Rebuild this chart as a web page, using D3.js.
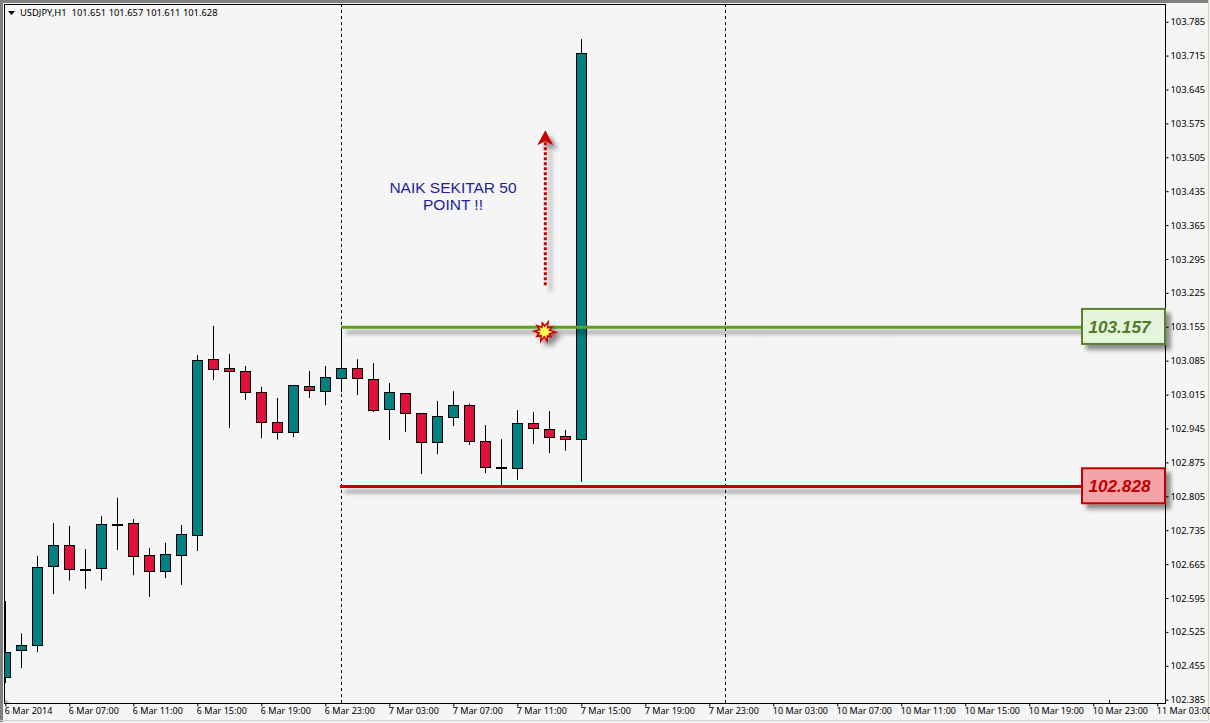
<!DOCTYPE html>
<html><head><meta charset="utf-8">
<script src="https://cdn.jsdelivr.net/npm/d3@7"></script>
<style>
html,body{margin:0;padding:0;background:#fff;overflow:hidden}
svg{display:block}
</style></head><body>
<svg id="c" width="1210" height="723"></svg>
<script>
const symbolTitle = "USDJPY,H1  101.651 101.657 101.611 101.628";
const candleOpen  = [102.432,102.486,102.497,102.660,102.704,102.655,102.656,102.748,102.749,102.683,102.650,102.684,102.724,103.088,103.069,103.063,103.020,102.958,102.937,103.032,103.023,103.048,103.069,103.047,102.984,103.018,102.976,102.916,102.969,102.993,102.919,102.866,102.864,102.956,102.945,102.929,102.922];
const candleHigh  = [102.589,102.522,102.682,102.750,102.744,102.696,102.764,102.802,102.758,102.698,102.709,102.746,103.097,103.157,103.099,103.074,103.031,103.008,103.034,103.064,103.074,103.154,103.088,103.080,103.039,103.018,102.976,103.002,103.022,102.996,102.952,102.923,102.983,102.979,102.981,102.942,103.749];
const candleLow   = [102.419,102.450,102.483,102.603,102.631,102.614,102.631,102.694,102.642,102.597,102.636,102.622,102.692,103.045,102.946,103.004,102.925,102.922,102.927,103.008,102.993,103.020,103.014,102.979,102.921,102.938,102.851,102.892,102.950,102.911,102.853,102.828,102.839,102.913,102.894,102.899,102.835];
const candleClose = [102.483,102.497,102.658,102.704,102.654,102.655,102.747,102.748,102.680,102.650,102.685,102.727,103.086,103.068,103.062,103.019,102.959,102.937,103.034,103.023,103.051,103.069,103.048,102.984,103.020,102.976,102.916,102.970,102.993,102.918,102.866,102.866,102.956,102.945,102.928,102.922,103.720];
const priceTicks = d3.range(0,21).map(i => (102.385 + i*0.07));
const timeLabels = ["6 Mar 2014","6 Mar 07:00","6 Mar 11:00","6 Mar 15:00","6 Mar 19:00","6 Mar 23:00","7 Mar 03:00","7 Mar 07:00","7 Mar 11:00","7 Mar 15:00","7 Mar 19:00","7 Mar 23:00","10 Mar 03:00","10 Mar 07:00","10 Mar 11:00","10 Mar 15:00","10 Mar 19:00","10 Mar 23:00","11 Mar 03:00"];
const separatorBars = [21, 45];
const levelPrices = [103.154, 102.825];
const levelLabels = ["103.157","102.828"];
const noteLines = ["NAIK SEKITAR 50","POINT !!"];
const arrowBottom = 103.241, arrowTop = 103.561, arrowBar = 33.75;
const burstPrice = 103.145, burstBar = 33.7;
const ghostBars   = [38,39,40,47,48,50,51,55,58,61,63,64];
const ghostTop    = [103.444,103.382,103.382,103.169,103.107,103.100,103.100,103.266,103.355,103.307,103.287,103.287];
const ghostBottom = [103.313,103.309,103.309,103.107,103.039,103.051,103.039,103.086,103.289,103.175,103.214,103.185];

const svg = d3.select("#c");
const W=1210,H=723;
const x = d3.scaleLinear().domain([0,72]).range([5.3,1157.3]);
const y = d3.scaleLinear().domain([102.385,103.785]).range([699.7,21.7]);
const FONT = "'Noto Sans',sans-serif";
const AX = 9.4, AXT = 9.05;

const defs = svg.append("defs");
const lshadow = defs.append("filter").attr("id","shL").attr("filterUnits","userSpaceOnUse").attr("x",0).attr("y",0).attr("width",W).attr("height",H);
lshadow.append("feDropShadow").attr("dx",5).attr("dy",5).attr("stdDeviation",2.2).attr("flood-color","#000").attr("flood-opacity",0.42);
defs.append("clipPath").attr("id","plot").append("rect").attr("x",4).attr("y",4).attr("width",1162).attr("height",699);

// window frame
svg.append("rect").attr("width",W).attr("height",H).attr("fill","#F0F0F0");
svg.append("rect").attr("x",0).attr("y",0).attr("width",1208).attr("height",720).attr("fill","#F5F5F5");
svg.append("path").attr("d","M1.5,722V1.5H1209").attr("fill","none").attr("stroke","#808080").attr("stroke-width",3);
svg.append("path").attr("d","M0,720.5H1208.5V0").attr("fill","none").attr("stroke","#D4D0C8").attr("stroke-width",1);

const plot = svg.append("g").attr("clip-path","url(#plot)");

// faint ghost bars
plot.selectAll("rect.g").data(ghostBars).join("rect").attr("class","g")
 .attr("x",d=>x(d)-5).attr("width",10)
 .attr("y",(d,i)=>y(ghostTop[i])).attr("height",(d,i)=>y(ghostBottom[i])-y(ghostTop[i]))
 .attr("fill","#F3F3F3");

// separators
plot.selectAll("line.sep").data(separatorBars).join("line").attr("class","sep")
 .attr("x1",d=>Math.round(x(d))+.5).attr("x2",d=>Math.round(x(d))+.5).attr("y1",4).attr("y2",703)
 .attr("stroke","#000").attr("stroke-dasharray","3,3").attr("stroke-width",1);

// candles
const candles = d3.range(candleOpen.length);
const g = plot.append("g");
g.selectAll("line.w").data(candles).join("line").attr("class","w")
 .attr("x1",d=>Math.round(x(d))+.5).attr("x2",d=>Math.round(x(d))+.5)
 .attr("y1",d=>y(candleHigh[d])).attr("y2",d=>y(candleLow[d])).attr("stroke","#000").attr("stroke-width",1);
g.selectAll("rect.b").data(candles).join("rect").attr("class","b")
 .attr("x",d=>Math.round(x(d))-4.5).attr("width",10)
 .attr("y",d=>Math.round(y(Math.max(candleOpen[d],candleClose[d])))+.5)
 .attr("height",d=>Math.max(1,Math.round(Math.abs(y(candleOpen[d])-y(candleClose[d])))))
 .attr("fill",d=>candleClose[d]>candleOpen[d]?"#008080":(candleClose[d]<candleOpen[d]?"#DC143C":"#000"))
 .attr("stroke","#000").attr("stroke-width",1);

// axes
const yAxis = d3.axisRight(y).tickValues(priceTicks).tickFormat(d3.format(".3f")).tickSize(3).tickSizeOuter(0);
const ya = svg.append("g").attr("transform","translate(1165.5,0)").call(yAxis);
ya.select(".domain").remove();
ya.selectAll("text").attr("x",5).attr("font-family",FONT).attr("font-size",AX).attr("fill","#000");
ya.selectAll("line").attr("stroke","#000");
const xTicks = d3.range(0,timeLabels.length).map(i=>i*4);
const xAxis = d3.axisBottom(x).tickValues(xTicks).tickFormat((d,i)=>timeLabels[i]).tickSize(3).tickSizeOuter(0);
const xa = svg.append("g").attr("transform","translate(0,703.5)").call(xAxis);
xa.select(".domain").remove();
xa.selectAll("text").attr("text-anchor","start").attr("dx",-1).attr("y",4).attr("dy","0.71em").attr("font-family",FONT).attr("font-size",AXT).attr("fill","#000");
xa.selectAll("line").attr("stroke","#000");
svg.append("rect").attr("x",4.5).attr("y",4.5).attr("width",1161).attr("height",699).attr("fill","none").attr("stroke","#000").attr("stroke-width",1);
svg.append("path").attr("d","M5,699L10,703H5Z").attr("fill","#BDBDBD");
svg.append("line").attr("x1",1109.5).attr("x2",1109.5).attr("y1",700).attr("y2",703).attr("stroke","#000");

// title
svg.append("path").attr("d","M8,11H15L11.5,15Z").attr("fill","#000");
svg.append("text").attr("x",20).attr("y",16).attr("font-family",FONT).attr("font-size",AX).attr("xml:space","preserve").text(symbolTitle);

// levels
const levelCols=[{l:"#5FA01E",s:"#5A7F32",f:"#E5F5DC",t:"#4F7A28"},{l:"#C00000",s:"#C00000",f:"#F4A3A8",t:"#C00000"}];
const lv = svg.append("g");
lv.selectAll("line").data(levelPrices).join("line")
 .attr("x1",(d,i)=>341-i).attr("x2",1081).attr("y1",d=>y(d)).attr("y2",d=>y(d))
 .attr("stroke",(d,i)=>levelCols[i].l).attr("stroke-width",3).attr("filter","url(#shL)");
lv.selectAll("rect").data(levelLabels).join("rect")
 .attr("x",1082).attr("width",83).attr("y",d=>y(+d)+0.6-17.5).attr("height",35)
 .attr("fill",(d,i)=>levelCols[i].f).attr("stroke",(d,i)=>levelCols[i].s).attr("stroke-width",2).attr("filter","url(#shL)");
lv.selectAll("text").data(levelLabels).join("text")
 .attr("x",1119.5).attr("y",d=>y(+d)+7).attr("text-anchor","middle")
 .attr("font-family","'Liberation Sans',Arial,sans-serif").attr("font-style","italic").attr("font-weight","bold").attr("font-size",17.2)
 .attr("fill",(d,i)=>levelCols[i].t).text(d=>d);

// arrow
const ax = x(arrowBar);
const ar = svg.append("g").attr("filter","url(#shL)");
ar.append("line").attr("x1",ax).attr("x2",ax).attr("y1",y(arrowBottom)).attr("y2",y(arrowTop)+12)
 .attr("stroke","#C80000").attr("stroke-width",3).attr("stroke-dasharray","3,2");
ar.append("path").attr("d",`M${ax-8},${y(arrowTop)+15}L${ax},${y(arrowTop)}L${ax+8},${y(arrowTop)+15}L${ax},${y(arrowTop)+11}Z`).attr("fill","#C80000");

// note
svg.append("g").selectAll("text").data(noteLines).join("text")
 .attr("x",453).attr("y",(d,i)=>192.5+i*17).attr("text-anchor","middle")
 .attr("font-family","'Liberation Sans',Arial,sans-serif").attr("font-size",15.5).attr("fill","#1E1E96").text(d=>d);

// burst
const burstR=[13,6,11,6.5,14,7,10,6.5,12.5,6,13,6.5,11,7,13,6.5,12,6,11,7];
const bx=x(burstBar), by=y(burstPrice);
const pts = (k)=>burstR.map((r,i)=>{const a=i/burstR.length*2*Math.PI-1.2;return [bx+Math.cos(a)*r*k,by+Math.sin(a)*r*k];});
const bg = svg.append("g").attr("filter","url(#shL)");
bg.append("path").attr("d",d3.line()(pts(1))+"Z").attr("fill","#D00000");
bg.append("path").attr("d",d3.line()(pts(.6))+"Z").attr("fill","#FFFF55");
</script>
</body></html>
